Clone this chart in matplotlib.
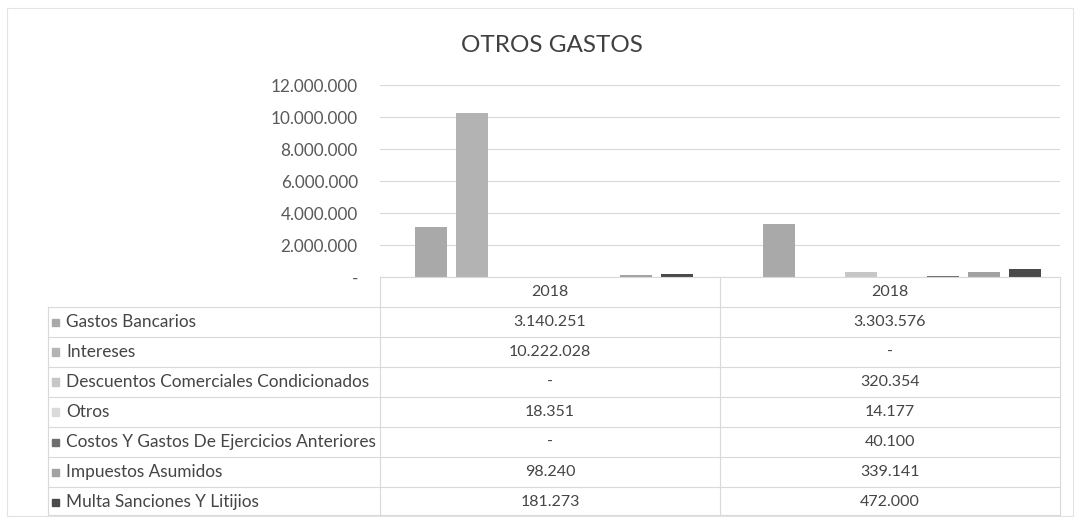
import matplotlib
matplotlib.use('Agg')
import matplotlib.pyplot as plt
from matplotlib.ticker import FuncFormatter
from matplotlib.lines import Line2D
from matplotlib.patches import Rectangle

# datos
years = ['2018', '2018']
series = ['Gastos Bancarios', 'Intereses', 'Descuentos Comerciales Condicionados',
          'Otros', 'Costos Y Gastos De Ejercicios Anteriores', 'Impuestos Asumidos',
          'Multa Sanciones Y Litijios']
gastos_bancarios = [3140251, 3303576]
intereses = [10222028, 0]
descuentos = [0, 320354]
otros = [18351, 14177]
costos = [0, 40100]
impuestos = [98240, 339141]
multa = [181273, 472000]
values = [gastos_bancarios, intereses, descuentos, otros, costos, impuestos, multa]
colors = ['#a9a9a9', '#b3b3b3', '#c6c6c6', '#dadada', '#6e6e6e', '#a2a2a2', '#4a4a4a']
yticks = [0, 2000000, 4000000, 6000000, 8000000, 10000000, 12000000]

W, H = 1079, 520
plt.rcParams['font.family'] = ['Lato', 'DejaVu Sans']
fig = plt.figure(figsize=(W / 100, H / 100), dpi=100)


def fx(x):
    return x / W


def fy(y):
    return 1 - y / H


def miles(v):
    if v == 0:
        return '-'
    return '{:,}'.format(int(v)).replace(',', '.')


txt = '#454545'
grid = '#d9d9d9'

# area del grafico
left, right, top, bottom = 380, 1060, 85, 277
ax = fig.add_axes([fx(left), fy(bottom), fx(right - left), fy(top) - fy(bottom)])
n = len(series)
bw = 0.092
step = 0.118
for i in range(n):
    xs = [c + (i - (n - 1) / 2) * step for c in range(len(years))]
    ax.bar(xs, values[i], width=bw, color=colors[i], zorder=3)
ax.set_xlim(-0.5, 1.454)
ax.set_ylim(0, 12000000)
ax.set_yticks(yticks)
ax.yaxis.set_major_formatter(FuncFormatter(lambda v, p: miles(v)))
ax.tick_params(axis='y', length=0, pad=16, labelsize=12.3, labelcolor='#595959')
ax.set_xticks([])
ax.grid(axis='y', color=grid, lw=0.8, zorder=0)
for s in ax.spines.values():
    s.set_visible(False)

fig.text(fx(552), fy(46), 'OTROS GASTOS', ha='center', va='center', fontsize=17.5, color='#404040')

# tabla de datos
tleft = 48
row_h = 30
col_x = [380, 720, 1060]
lines = []
lines.append(((col_x[0], col_x[-1]), (bottom, bottom)))
for r in range(n + 1):
    y = bottom + row_h * (r + 1)
    if r == n:
        y = 515
    lines.append(((tleft, col_x[-1]), (y, y)))
for x in col_x:
    lines.append(((x, x), (bottom, 515)))
lines.append(((tleft, tleft), (bottom + row_h, 515)))
for (x0, x1), (y0, y1) in lines:
    fig.add_artist(Line2D([fx(x0), fx(x1)], [fy(y0), fy(y1)], color=grid, lw=0.8))

for j, yr in enumerate(years):
    cx = (col_x[j] + col_x[j + 1]) / 2
    fig.text(fx(cx), fy(bottom + row_h / 2), yr, ha='center', va='center', fontsize=11.5, color=txt)

for i in range(n):
    cy = bottom + row_h * (i + 1) + row_h / 2
    fig.add_artist(Rectangle((fx(52), fy(cy + 3.5)), fx(7), fy(cy - 3.5) - fy(cy + 3.5),
                             color=colors[i], transform=fig.transFigure))
    fig.text(fx(66), fy(cy), series[i], ha='left', va='center', fontsize=12.4, color=txt)
    for j in range(len(years)):
        cx = (col_x[j] + col_x[j + 1]) / 2
        fig.text(fx(cx), fy(cy), miles(values[i][j]), ha='center', va='center', fontsize=11.5, color=txt)

# borde exterior
fig.add_artist(Rectangle((fx(7), fy(516)), fx(1066), fy(8) - fy(516), fill=False,
                         ec='#e3e3e3', lw=0.8, transform=fig.transFigure))

plt.savefig('out.png', dpi=100)
plt.close()
